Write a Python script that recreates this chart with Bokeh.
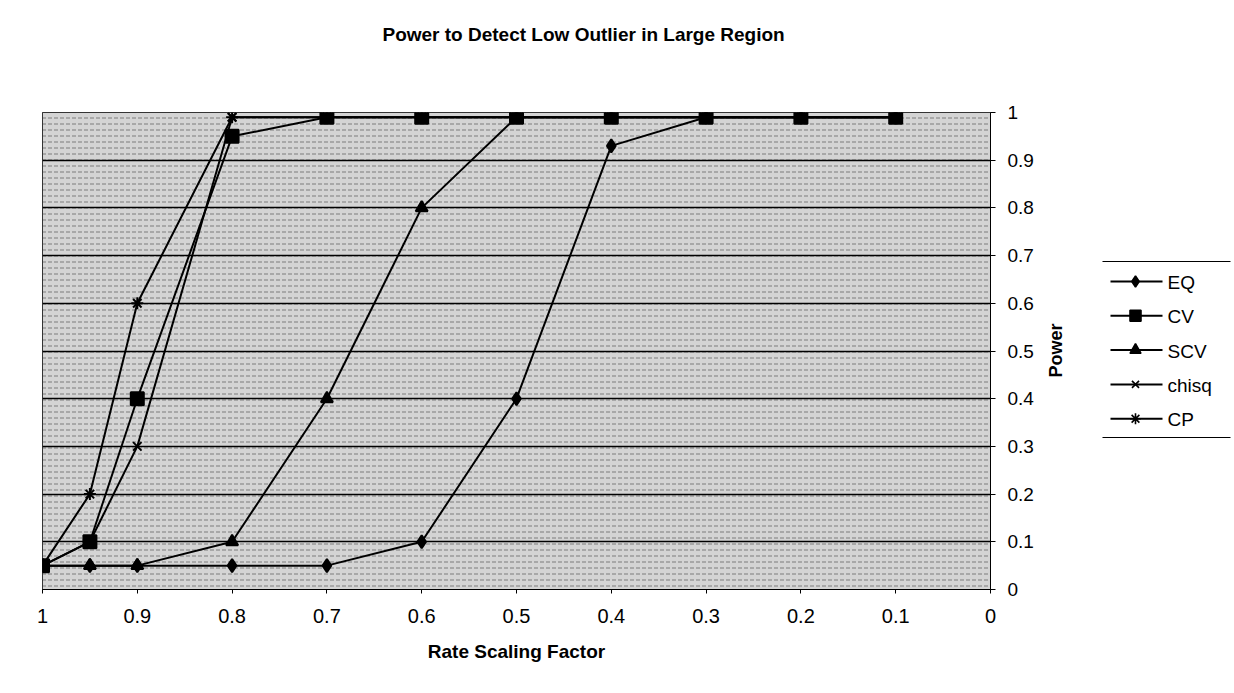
import math
from bokeh.plotting import figure
from bokeh.models import Range1d, FixedTicker, CustomJSTickFormatter, Title
from bokeh.layouts import row
from bokeh.embed import file_html
from bokeh.resources import INLINE
from bokeh.core.properties import value

# ---- data ----
rate = [1.0, 0.95, 0.9, 0.8, 0.7, 0.6, 0.5, 0.4, 0.3, 0.2, 0.1]
eq = [0.05, 0.05, 0.05, 0.05, 0.05, 0.10, 0.40, 0.93, 0.99, 0.99, 0.99]
cv = [0.05, 0.10, 0.40, 0.95, 0.99, 0.99, 0.99, 0.99, 0.99, 0.99, 0.99]
scv = [0.05, 0.05, 0.05, 0.10, 0.40, 0.80, 0.99, 0.99, 0.99, 0.99, 0.99]
chisq = [0.05, 0.10, 0.30, 0.99, 0.99, 0.99, 0.99, 0.99, 0.99, 0.99, 0.99]
cp = [0.05, 0.20, 0.60, 0.99, 0.99, 0.99, 0.99, 0.99, 0.99, 0.99, 0.99]

series_names = ["EQ", "CV", "SCV", "chisq", "CP"]
series_values = [eq, cv, scv, chisq, cp]
series_markers = ["diamond", "square", "triangle", "x", "asterisk"]
series_sizes = [13, 13, 12, 12, 12]
legend_sizes = [11, 11, 11, 10, 11]

x_ticks = [1.0, 0.9, 0.8, 0.7, 0.6, 0.5, 0.4, 0.3, 0.2, 0.1, 0.0]
y_ticks = [0.0, 0.1, 0.2, 0.3, 0.4, 0.5, 0.6, 0.7, 0.8, 0.9, 1.0]

FONT = "Liberation Sans"
TOP, BOTTOM, LEFT, RIGHT = 112, 104, 42, 55
MAIN_W = 42 + 948 + RIGHT
SIDE_W = 1234 - MAIN_W

p = figure(width=MAIN_W, height=693,
           x_range=Range1d(1, 0), y_range=Range1d(0, 1),
           y_axis_location="right",
           output_backend="svg", toolbar_location=None,
           min_border_left=LEFT, min_border_right=RIGHT,
           min_border_top=TOP, min_border_bottom=BOTTOM)

# real title (outermost) + a blank spacer title between it and the frame
p.title.text = "Power to Detect Low Outlier in Large Region"
p.title.text_font = FONT
p.title.text_font_size = "19px"
p.title.text_font_style = "bold"
p.title.text_color = "black"
p.title.align = "left"
p.title.offset = 340
p.title.standoff = 0
p.add_layout(Title(text=" ", text_font=FONT, text_font_size="19px",
                   standoff=45), "above")

p.background_fill_color = "white"
p.border_fill_color = "white"
p.outline_line_color = "black"
p.outline_line_width = 1

# stippled plot-area background
p.quad(left=1, right=0, bottom=0, top=1, fill_color="#d4d4d4",
       line_color=None, hatch_pattern="horizontal_dash",
       hatch_color="#222222", hatch_alpha=0.5, hatch_scale=6,
       hatch_weight=1, level="image")

fmt = CustomJSTickFormatter(code="return (Math.round(tick*10)/10).toString();")

xa = p.xaxis[0]
xa.ticker = FixedTicker(ticks=x_ticks)
xa.formatter = fmt
xa.axis_label = "Rate Scaling Factor"
xa.axis_label_text_font = FONT
xa.axis_label_text_font_size = "19px"
xa.axis_label_text_font_style = "bold"
xa.axis_label_text_color = "black"
xa.axis_label_standoff = 15
xa.major_label_text_font = FONT
xa.major_label_text_font_size = "20px"
xa.major_label_standoff = 15
xa.major_tick_out = 4
xa.major_tick_in = 0
xa.minor_tick_out = 0
xa.minor_tick_in = 0
xa.axis_line_color = "black"
xa.major_tick_line_color = "black"
xa.major_label_text_color = "black"

ya = p.yaxis[0]
ya.ticker = FixedTicker(ticks=y_ticks)
ya.formatter = fmt
ya.major_label_text_font = FONT
ya.major_label_text_font_size = "19px"
ya.major_label_standoff = 12
ya.major_tick_out = 5
ya.major_tick_in = 0
ya.minor_tick_out = 0
ya.minor_tick_in = 0
ya.axis_line_color = "black"
ya.major_tick_line_color = "black"
ya.major_label_text_color = "black"

p.xgrid.visible = False
p.ygrid.ticker = FixedTicker(ticks=y_ticks)
p.ygrid.grid_line_color = "black"
p.ygrid.grid_line_width = 1.3

for name, vals, mk, sz in zip(series_names, series_values, series_markers, series_sizes):
    p.line(rate, vals, line_color="black", line_width=2)
    p.scatter(rate, vals, marker=mk, size=sz, fill_color="black",
              line_color="black", line_width=2)

# ---- side panel: y-axis title and legend (coordinates in page pixels) ----
L = figure(width=SIDE_W, height=693,
           x_range=Range1d(MAIN_W, 1234), y_range=Range1d(693 - BOTTOM, TOP),
           output_backend="svg", toolbar_location=None,
           min_border_left=0, min_border_right=0,
           min_border_top=TOP, min_border_bottom=BOTTOM)
L.axis.visible = False
L.grid.visible = False
L.outline_line_color = None
L.background_fill_color = "white"
L.border_fill_color = "white"

L.text([1055], [350], text=["Power"], angle=math.pi / 2, text_font=value(FONT),
       text_font_size="18px", text_font_style="bold", text_align="center",
       text_baseline="middle", text_color="black")

top_y, bottom_y = 261, 437
first_y, step = 281, 34.3
L.segment(x0=[1102, 1102], y0=[top_y, bottom_y], x1=[1230, 1230], y1=[top_y, bottom_y],
          line_color="black", line_width=1.2)
for i, (name, mk, sz) in enumerate(zip(series_names, series_markers, legend_sizes)):
    yy = first_y + i * step
    L.segment(x0=[1110], y0=[yy], x1=[1162], y1=[yy], line_color="black", line_width=2)
    L.scatter([1135], [yy], marker=mk, size=sz, fill_color="black",
              line_color="black", line_width=1.6)
    L.text([1167], [yy + 1], text=[name], text_font=value(FONT),
           text_font_size="19px", text_baseline="alphabetic",
           text_align="left", text_color="black")

layout = row(p, L)
open("out.html", "w").write(file_html(layout, INLINE))
